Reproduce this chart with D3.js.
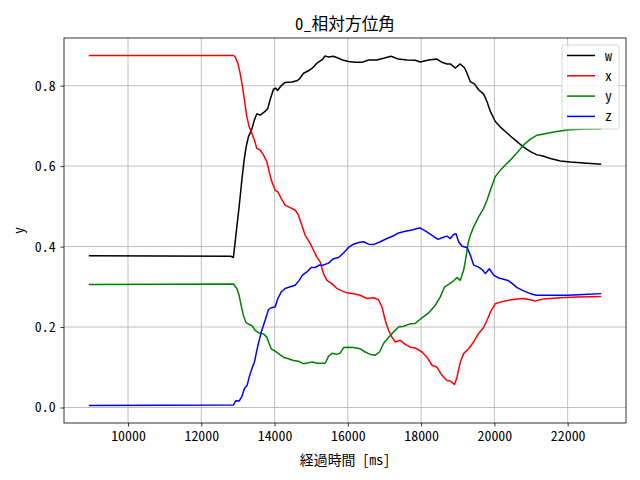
<!DOCTYPE html>
<html><head><meta charset="utf-8">
<script src="https://cdn.jsdelivr.net/npm/d3@7"></script>
<style>
body{margin:0;background:#fff}
text{font-family:"Noto Sans Mono CJK JP","Noto Sans CJK JP","DejaVu Sans",sans-serif;fill:#000}
</style>
</head><body><svg id="c" width="640" height="480"></svg>
<script>
const chartTitle = "0_相対方位角";
const xLabel = "経過時間 [ms]";
const yLabel = "y";
const xTicks = [10000, 12000, 14000, 16000, 18000, 20000, 22000];
const yTicks = [0.0, 0.2, 0.4, 0.6, 0.8];
const seriesNames = ["w", "x", "y", "z"];
const seriesColors = ["#000000", "#ff0000", "#008000", "#0000ff"];

const wData = [[8950,.377],[12800,.376],[12877,.373],[12970,.449],[13033,.499],[13106,.565],[13169,.615],[13224,.648],[13287,.673],[13379,.692],[13450,.715],[13516,.730],[13606,.727],[13743,.736],[13817,.744],[13879,.765],[13970,.791],[14035,.794],[14079,.788],[14180,.800],[14289,.808],[14472,.809],[14609,.812],[14672,.816],[14789,.831],[14926,.837],[15035,.844],[15155,.856],[15292,.864],[15382,.874],[15472,.871],[15609,.873],[15745,.868],[15882,.863],[16019,.860],[16202,.858],[16385,.858],[16565,.864],[16794,.864],[16975,.868],[17177,.873],[17385,.866],[17614,.864],[17841,.863],[17977,.859],[18204,.864],[18434,.866],[18570,.858],[18707,.854],[18797,.854],[18934,.844],[19070,.854],[19188,.844],[19253,.831],[19343,.810],[19461,.804],[19570,.790],[19707,.779],[19800,.760],[19890,.736],[20026,.711],[20163,.697],[20300,.686],[20436,.675],[20619,.661],[20800,.647],[20983,.636],[21166,.628],[21302,.626],[21529,.619],[21802,.613],[22075,.610],[22439,.608],[22895,.605]];

const xData = [[8950,.875],[12877,.875],[12923,.872],[12997,.856],[13060,.831],[13123,.798],[13177,.765],[13243,.723],[13306,.698],[13379,.682],[13450,.665],[13516,.644],[13606,.640],[13696,.628],[13789,.611],[13852,.586],[13926,.561],[14016,.540],[14090,.536],[14180,.520],[14289,.503],[14426,.497],[14562,.491],[14653,.478],[14745,.453],[14836,.428],[14972,.408],[15062,.391],[15155,.374],[15245,.362],[15335,.333],[15428,.316],[15565,.308],[15702,.296],[15838,.290],[15975,.285],[16155,.283],[16338,.279],[16521,.271],[16702,.273],[16838,.268],[16931,.250],[17021,.217],[17111,.192],[17204,.175],[17294,.163],[17431,.167],[17568,.157],[17704,.150],[17841,.148],[18024,.138],[18160,.125],[18297,.105],[18434,.100],[18570,.080],[18707,.067],[18797,.066],[18915,.057],[18980,.076],[19070,.113],[19160,.134],[19297,.146],[19434,.163],[19570,.184],[19707,.199],[19800,.217],[19890,.237],[20026,.258],[20163,.262],[20346,.266],[20573,.269],[20800,.271],[21119,.265],[21346,.270],[21802,.273],[22258,.275],[22895,.276]];

const yData = [[8950,.306],[12877,.307],[12970,.296],[13033,.279],[13087,.254],[13150,.229],[13216,.212],[13287,.207],[13379,.204],[13470,.192],[13560,.186],[13696,.183],[13789,.175],[13852,.159],[13907,.146],[14016,.140],[14106,.134],[14243,.125],[14379,.121],[14516,.117],[14653,.115],[14789,.109],[14926,.111],[15035,.113],[15155,.110],[15292,.110],[15382,.110],[15472,.127],[15565,.135],[15702,.132],[15792,.135],[15882,.149],[16019,.150],[16155,.149],[16338,.146],[16475,.138],[16611,.132],[16748,.130],[16866,.138],[16975,.159],[17111,.174],[17248,.188],[17385,.200],[17521,.202],[17704,.208],[17841,.209],[18024,.223],[18204,.235],[18387,.254],[18524,.275],[18641,.300],[18750,.306],[18887,.315],[18980,.323],[19070,.316],[19160,.341],[19226,.374],[19281,.408],[19343,.428],[19434,.449],[19570,.474],[19707,.495],[19800,.516],[19890,.540],[20026,.574],[20163,.590],[20300,.603],[20436,.615],[20619,.633],[20800,.653],[20983,.667],[21166,.677],[21346,.680],[21619,.685],[21985,.690],[22439,.692],[22895,.693]];

const zData = [[8950,.005],[12877,.006],[12942,.017],[13033,.016],[13106,.027],[13177,.047],[13251,.055],[13306,.075],[13379,.096],[13450,.113],[13516,.142],[13579,.167],[13653,.192],[13743,.217],[13833,.243],[13907,.248],[14016,.250],[14090,.271],[14180,.287],[14289,.296],[14426,.300],[14562,.304],[14672,.316],[14762,.329],[14882,.337],[15000,.348],[15109,.348],[15218,.354],[15300,.353],[15472,.359],[15609,.370],[15745,.373],[15882,.384],[16019,.398],[16155,.406],[16292,.410],[16428,.412],[16565,.406],[16702,.405],[16885,.412],[17068,.420],[17248,.427],[17385,.434],[17568,.438],[17751,.441],[17887,.445],[17977,.446],[18114,.439],[18297,.428],[18461,.418],[18570,.422],[18707,.426],[18797,.420],[18887,.430],[18953,.432],[19024,.412],[19117,.401],[19253,.398],[19343,.379],[19434,.354],[19570,.349],[19663,.343],[19753,.333],[19863,.345],[19980,.329],[20117,.322],[20253,.319],[20390,.315],[20491,.308],[20619,.298],[20800,.290],[20983,.283],[21147,.279],[21529,.279],[21985,.279],[22439,.281],[22895,.283]];

const allSeries = [wData, xData, yData, zData];

const svg = d3.select("#c");
const L = 64, R = 626, T = 38, B = 423;

const allT = allSeries.flat().map(d => d[0]);
const allV = allSeries.flat().map(d => d[1]);
const [t0, t1] = d3.extent(allT), [v0, v1] = d3.extent(allV);
const tp = (t1 - t0) * 0.05, vp = (v1 - v0) * 0.05;
const x = d3.scaleLinear().domain([t0 - tp, t1 + tp]).range([L, R]);
const y = d3.scaleLinear().domain([v0 - vp, v1 + vp]).range([B, T]);

svg.append("rect").attr("x",0).attr("y",0).attr("width",640).attr("height",480).attr("fill","#fff");

// grid
const grid = svg.append("g").attr("stroke","#b0b0b0").attr("stroke-width",0.8);
grid.selectAll(".gx").data(xTicks).join("line")
  .attr("x1", d => x(d)).attr("x2", d => x(d)).attr("y1", T).attr("y2", B);
grid.selectAll(".gy").data(yTicks).join("line")
  .attr("y1", d => y(d)).attr("y2", d => y(d)).attr("x1", L).attr("x2", R);

// lines
const line = d3.line().x(d => x(d[0])).y(d => y(d[1]));
svg.append("g").selectAll("path").data(allSeries).join("path")
  .attr("d", line).attr("fill","none")
  .attr("stroke", (d,i) => seriesColors[i]).attr("stroke-width",1.5)
  .attr("stroke-linejoin","round").attr("stroke-linecap","square");

// axes
const xAxis = d3.axisBottom(x).tickValues(xTicks).tickFormat(d3.format("d")).tickSize(3.5).tickPadding(4.9);
const yAxis = d3.axisLeft(y).tickValues(yTicks).tickFormat(d3.format(".1f")).tickSize(3.5).tickPadding(4.9);
const gx = svg.append("g").attr("transform",`translate(0,${B})`).call(xAxis);
const gy = svg.append("g").attr("transform",`translate(${L},0)`).call(yAxis);
[gx, gy].forEach(g => {
  g.select(".domain").remove();
  g.selectAll(".tick line").attr("stroke","#000").attr("stroke-width",0.8);
  g.selectAll(".tick text").attr("font-size","13.9px").attr("font-family",null);
});

// spines
svg.append("rect").attr("x",L).attr("y",T).attr("width",R-L).attr("height",B-T)
  .attr("fill","none").attr("stroke","#000").attr("stroke-width",0.8);

// labels
svg.append("text").attr("x",(L+R)/2).attr("y",29.5).attr("text-anchor","middle")
  .attr("font-size","16.7px").text(chartTitle);
svg.append("text").attr("x",(L+R)/2).attr("y",465).attr("text-anchor","middle")
  .attr("font-size","13.9px").text(xLabel);
svg.append("text").attr("transform",`translate(24,${(T+B)/2}) rotate(-90)`).attr("text-anchor","middle")
  .attr("font-size","13.9px").text(yLabel);

// legend
const lg = svg.append("g");
lg.append("rect").attr("x",562).attr("y",45).attr("width",57).attr("height",84).attr("rx",2.5)
  .attr("fill","#fff").attr("fill-opacity",0.8).attr("stroke","#cccccc").attr("stroke-width",0.8);
seriesNames.forEach((n,i) => {
  const yy = 55.5 + i*20.3;
  lg.append("line").attr("x1",567).attr("x2",595).attr("y1",yy).attr("y2",yy)
    .attr("stroke",seriesColors[i]).attr("stroke-width",1.5);
  lg.append("text").attr("x",605).attr("y",yy+5).attr("font-size","13.9px").text(n);
});
</script>
</body></html>
